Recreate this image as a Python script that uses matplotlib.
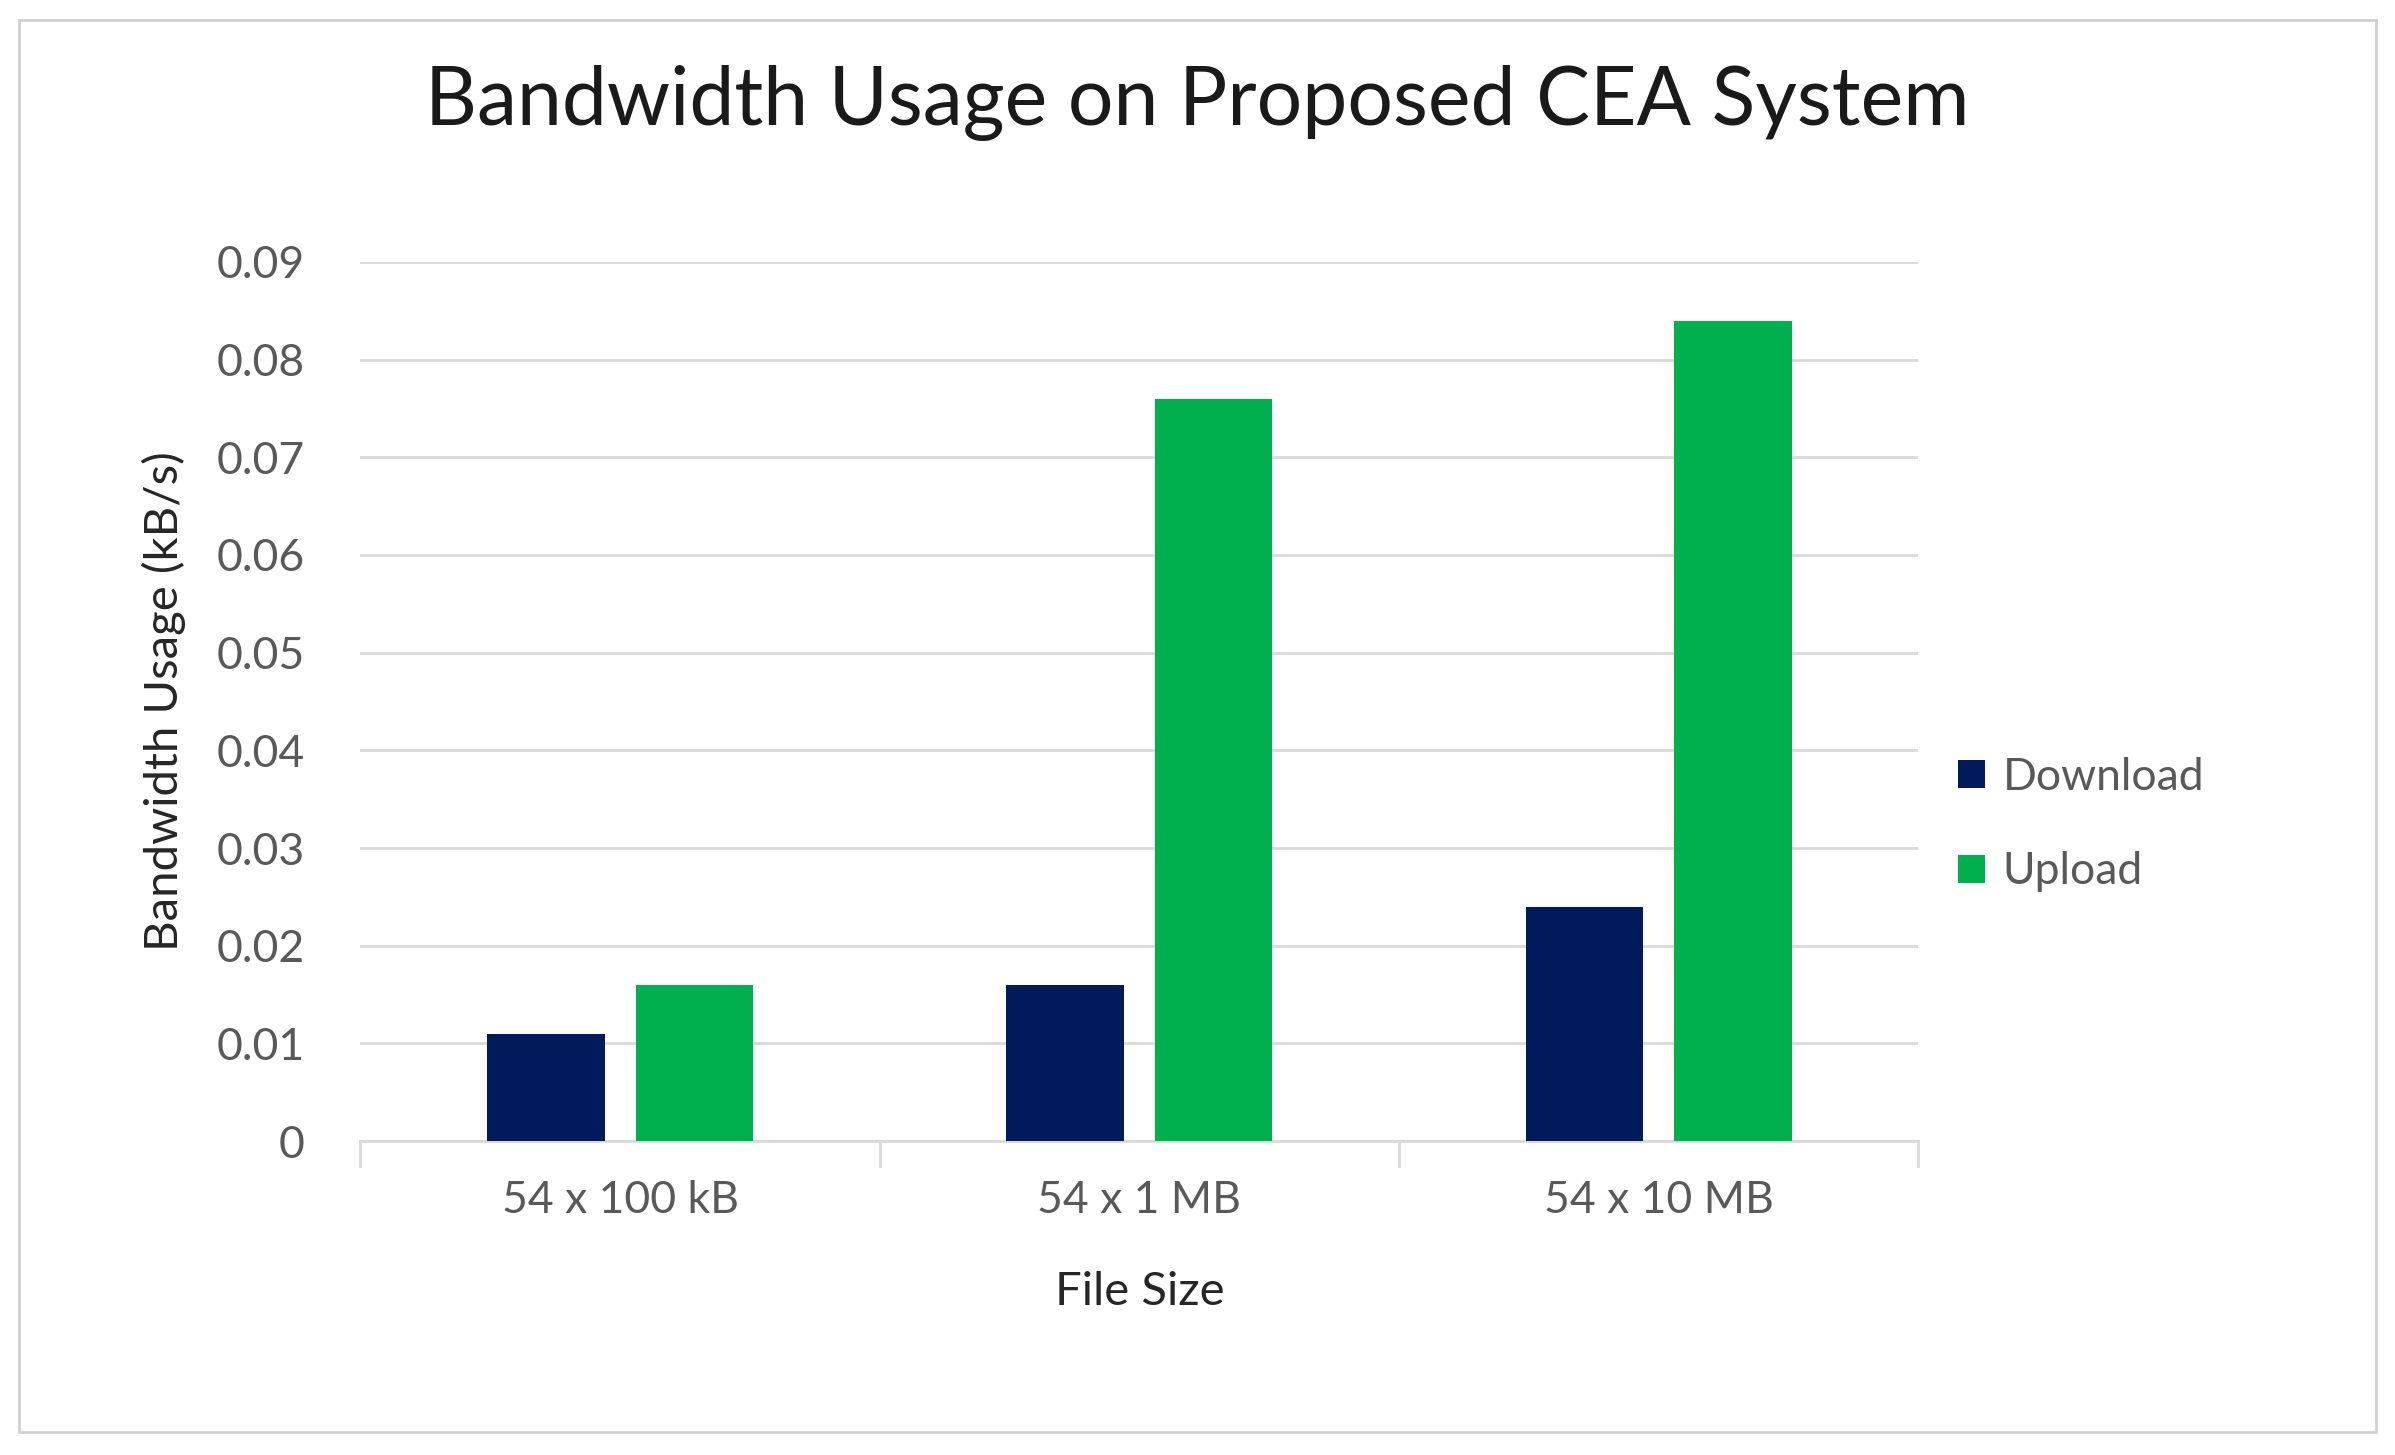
import matplotlib.pyplot as plt
import numpy as np
from matplotlib.patches import Rectangle

plt.rcParams['font.family'] = ['Lato', 'DejaVu Sans']

categories = ['54 x 100 kB', '54 x 1 MB', '54 x 10 MB']
download = [0.011, 0.016, 0.024]
upload = [0.016, 0.076, 0.084]

fig = plt.figure(figsize=(23.95, 14.55), dpi=100)
ax = fig.add_axes([0.1505, 0.2157, 0.6505, 0.6043])

# outer frame
fig.patches.append(Rectangle((0.008, 0.016), 0.984, 0.97, transform=fig.transFigure,
                             fill=False, edgecolor='#d0d0d0', linewidth=2))

x = np.arange(len(categories))
w = 0.226
ax.bar(x - 0.143, download, w, color='#001a5c', label='Download', zorder=3)
ax.bar(x + 0.143, upload, w, color='#00b04f', label='Upload', zorder=3)

ax.set_xlim(-0.5, 2.5)
ax.set_ylim(0, 0.09)
ax.set_yticks(np.arange(0, 0.0901, 0.01))
ax.set_yticklabels(['0'] + [f'{v:.2f}' for v in np.arange(0.01, 0.0901, 0.01)])
ax.set_xticks(x)
ax.set_xticklabels(categories)
ax.grid(axis='y', color='#d9d9d9', linewidth=2, zorder=0)
for s in ['top', 'right', 'left']:
    ax.spines[s].set_visible(False)
ax.spines['bottom'].set_color('#d9d9d9')
ax.spines['bottom'].set_linewidth(2)
ax.tick_params(axis='y', length=0, labelsize=32, labelcolor='#595959', pad=40)
ax.tick_params(axis='x', length=0, labelsize=32, labelcolor='#595959', pad=28)
for b in [-0.5, 0.5, 1.5, 2.5]:
    ax.plot([b, b], [0, -0.0025], color='#d9d9d9', lw=2, clip_on=False)

ax.set_xlabel('File Size', fontsize=34, color='#262626', labelpad=36)
ax.set_ylabel('Bandwidth Usage (kB/s)', fontsize=34, color='#262626', labelpad=22)
fig.suptitle('Bandwidth Usage on Proposed CEA System', fontsize=58, color='#1a1a1a', y=0.955)

ax.legend(loc='center left', bbox_to_anchor=(1.0, 0.36), frameon=False, fontsize=32,
          labelcolor='#595959', handlelength=0.6, handleheight=0.6, labelspacing=1.2,
          handletextpad=0.4)

fig.savefig('out.png', dpi=100)
